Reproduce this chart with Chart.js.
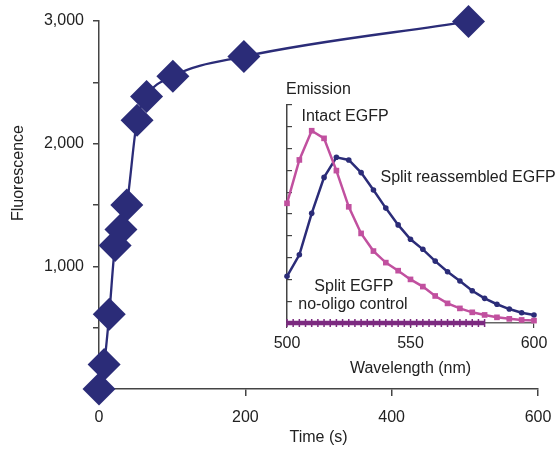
<!DOCTYPE html>
<html>
<head>
<meta charset="utf-8">
<script src="https://cdn.jsdelivr.net/npm/chart.js@4"></script>
<style>
  html, body { margin: 0; padding: 0; background: #fff; }
  #wrap { position: relative; width: 556px; height: 450px; }
  #mainChart { position: absolute; left: 0; top: 0; }
  #insetChart { position: absolute; left: 255px; top: 75px; }
</style>
</head>
<body>
<div id="wrap">
  <canvas id="mainChart" width="556" height="450"></canvas>
  <canvas id="insetChart" width="301" height="305"></canvas>
</div>
<script>
// main panel: fluorescence over time
const timeS = [0, 7, 14, 22, 30, 38, 52, 65, 101, 198, 505];
const fluorescence = [0, 200, 610, 1170, 1300, 1500, 2190, 2385, 2550, 2710, 2995];

// inset: emission spectra
const wavelength = [500, 505, 510, 515, 520, 525, 530, 535, 540, 545, 550,
                    555, 560, 565, 570, 575, 580, 585, 590, 595, 600];
const splitReassembled = [2.14, 3.13, 5.03, 6.68, 7.6, 7.48, 6.9, 6.1, 5.27, 4.5, 3.84,
                          3.38, 2.84, 2.35, 1.93, 1.48, 1.13, 0.86, 0.64, 0.47, 0.37];
const intact = [5.49, 7.48, 8.82, 8.47, 6.99, 5.33, 4.11, 3.3, 2.77, 2.4, 2.0,
                1.67, 1.24, 0.9, 0.67, 0.49, 0.37, 0.26, 0.19, 0.14, 0.11];
const controlWavelength = [500, 502.5, 505, 507.5, 510, 512.5, 515, 517.5, 520, 522.5, 525,
                           527.5, 530, 532.5, 535, 537.5, 540, 542.5, 545, 547.5, 550,
                           552.5, 555, 557.5, 560, 562.5, 565, 567.5, 570, 572.5, 575, 577.5, 580];
const control = [0, 0, 0, 0, 0, 0, 0, 0, 0, 0, 0, 0, 0, 0, 0, 0, 0,
                 0, 0, 0, 0, 0, 0, 0, 0, 0, 0, 0, 0, 0, 0, 0, 0];

const insetLabels = [
  { text: 'Intact EGFP', x: 523.5, y: 9.45 },
  { text: 'Split reassembled EGFP', x: 573.3, y: 6.65 },
  { text: 'Split EGFP', x: 527.1, y: 1.65 },
  { text: 'no-oligo control', x: 526.7, y: 0.83 }
];

const navy = '#2b2c78';
const pink = '#c1509f';
const purple = '#7c2a80';
const ink = '#222';
const axisGray = '#444';
const FONT = '"Liberation Sans", Arial, sans-serif';

Chart.defaults.font.family = FONT;
Chart.defaults.font.size = 16;
Chart.defaults.color = ink;
Chart.defaults.animation = false;

// y title sits above the middle of the axis in the original
const yTitle = {
  id: 'yTitle',
  afterDraw(chart) {
    const ctx = chart.ctx;
    ctx.save();
    ctx.translate(19, 173);
    ctx.rotate(-Math.PI / 2);
    ctx.fillStyle = ink;
    ctx.font = '16px ' + FONT;
    ctx.textAlign = 'center';
    ctx.textBaseline = 'middle';
    ctx.fillText('Fluorescence', 0, 0);
    ctx.restore();
  }
};

new Chart(document.getElementById('mainChart'), {
  type: 'line',
  data: {
    datasets: [{
      data: timeS.map((t, i) => ({ x: t, y: fluorescence[i] })),
      borderColor: navy,
      borderWidth: 2.3,
      backgroundColor: navy,
      pointStyle: 'rectRot',
      pointRadius: 16.5,
      pointBorderWidth: 0,
      cubicInterpolationMode: 'monotone',
      clip: false
    }]
  },
  options: {
    responsive: false,
    layout: { padding: { top: 21, right: 18, left: 0, bottom: 0 } },
    plugins: { legend: { display: false }, tooltip: { enabled: false } },
    scales: {
      x: {
        type: 'linear', min: 0, max: 600,
        ticks: { stepSize: 200, padding: 12, color: ink },
        grid: { drawOnChartArea: false, tickLength: 7, color: axisGray, lineWidth: 1.5 },
        border: { color: axisGray, width: 1.5 },
        title: { display: true, text: 'Time (s)', color: ink, padding: { top: 0, bottom: 3 } },
        afterFit: s => { s.height = 61; s.paddingLeft = 0; s.paddingRight = 0; }
      },
      y: {
        min: 0, max: 3000,
        ticks: {
          stepSize: 500, autoSkip: false, padding: 9, color: ink,
          callback: v => (v > 0 && v % 1000 === 0) ? v.toLocaleString('en-US') : ''
        },
        grid: { drawOnChartArea: false, tickLength: 6, color: axisGray, lineWidth: 1.5 },
        border: { color: axisGray, width: 1.5 },
        afterFit: s => { s.width = 99; }
      }
    }
  },
  plugins: [yTitle]
});

const insetText = {
  id: 'insetText',
  afterDraw(chart) {
    const { ctx, chartArea, scales } = chart;
    ctx.save();
    ctx.fillStyle = ink;
    ctx.font = '16px ' + FONT;
    ctx.textBaseline = 'middle';
    ctx.textAlign = 'left';
    ctx.fillText('Emission', chartArea.left - 1, 15);
    ctx.textAlign = 'center';
    insetLabels.forEach(l => {
      ctx.fillText(l.text, scales.x.getPixelForValue(l.x), scales.y.getPixelForValue(l.y));
    });
    ctx.restore();
  }
};

new Chart(document.getElementById('insetChart'), {
  type: 'line',
  data: {
    datasets: [{
      data: controlWavelength.map((w, i) => ({ x: w, y: control[i] })),
      borderColor: purple,
      backgroundColor: purple,
      borderWidth: 4.5,
      pointStyle: 'line',
      rotation: 90,
      pointRadius: 4,
      pointBorderWidth: 1.5,
      clip: false
    }, {
      data: wavelength.map((w, i) => ({ x: w, y: intact[i] })),
      borderColor: pink,
      backgroundColor: pink,
      borderWidth: 2.5,
      pointStyle: 'rect',
      pointRadius: 4,
      pointBorderWidth: 0,
      clip: false
    }, {
      data: wavelength.map((w, i) => ({ x: w, y: splitReassembled[i] })),
      borderColor: navy,
      backgroundColor: navy,
      borderWidth: 2.5,
      pointStyle: 'circle',
      pointRadius: 2.8,
      pointBorderWidth: 0,
      clip: false
    }]
  },
  options: {
    responsive: false,
    layout: { padding: { top: 30, right: 22, left: 0, bottom: 0 } },
    plugins: { legend: { display: false }, tooltip: { enabled: false } },
    scales: {
      x: {
        type: 'linear', min: 500, max: 600,
        ticks: { stepSize: 50, padding: 6, color: ink },
        grid: { drawOnChartArea: false, tickLength: 5, color: axisGray, lineWidth: 1.2 },
        border: { color: '#666', width: 1.5 },
        title: { display: true, text: 'Wavelength (nm)', color: ink, padding: { top: 2, bottom: 2 } },
        afterFit: s => { s.height = 57; s.paddingLeft = 0; s.paddingRight = 0; }
      },
      y: {
        min: 0, max: 10,
        ticks: { stepSize: 1, display: false },
        grid: { drawOnChartArea: false, tickLength: -5, color: axisGray, lineWidth: 1.2 },
        border: { color: axisGray, width: 1.5 },
        afterFit: s => { s.width = 32; }
      }
    }
  },
  plugins: [insetText]
});
</script>
</body>
</html>
